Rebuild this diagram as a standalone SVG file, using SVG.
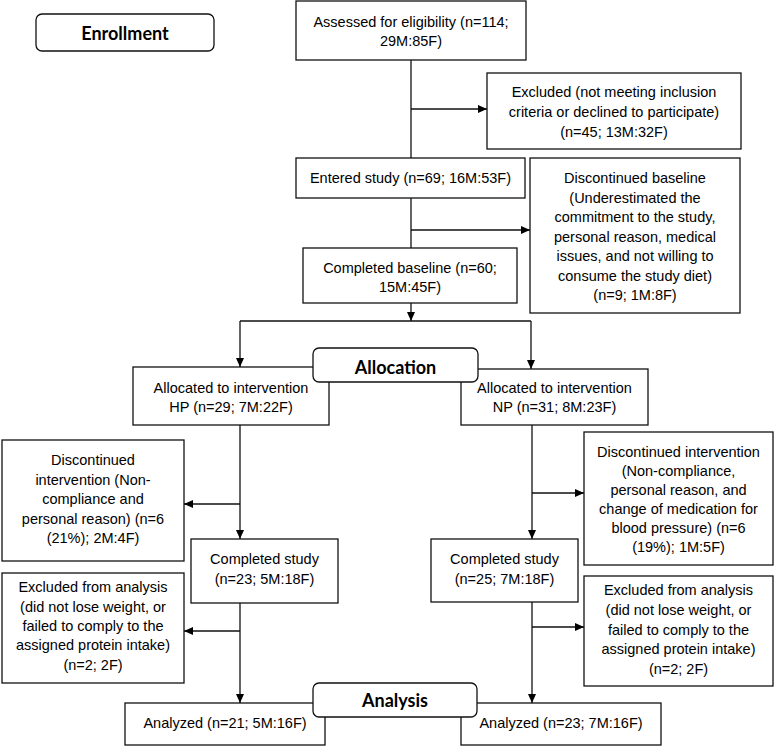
<svg xmlns="http://www.w3.org/2000/svg" width="774" height="747" viewBox="0 0 774 747">
<defs>
<marker id="ah" markerWidth="9" markerHeight="8" refX="9" refY="4" orient="auto" markerUnits="userSpaceOnUse">
<path d="M0,0 L9,4 L0,8 Z" fill="#000"/>
</marker>
<style>
.box{fill:#fff;stroke:#111;stroke-width:1.3}
.stage{fill:#fff;stroke:#111;stroke-width:1.3}
.t{font-family:"Liberation Sans",Arial,sans-serif;font-size:14.5px;fill:#000;text-anchor:middle}
.h{font-family:Lato,"Open Sans",sans-serif;font-size:18px;font-weight:bold;fill:#000;text-anchor:middle}
.c{fill:none;stroke:#111;stroke-width:1.3}
.a{fill:none;stroke:#111;stroke-width:1.3;marker-end:url(#ah)}
</style>
</defs>
<rect width="774" height="747" fill="#fff"/>
<g id="connectors">
<line class="c" x1="411" y1="60" x2="411" y2="158"/>
<line class="a" x1="411" y1="109" x2="487" y2="109"/>
<line class="c" x1="411" y1="198" x2="411" y2="248"/>
<line class="a" x1="411" y1="230" x2="530" y2="230"/>
<line class="a" x1="411" y1="303" x2="411" y2="321"/>
<polyline class="c" points="240,321 531,321"/>
<line class="a" x1="240" y1="321" x2="240" y2="367"/>
<line class="a" x1="531" y1="321" x2="531" y2="369"/>
<line class="a" x1="240" y1="425" x2="240" y2="539"/>
<line class="a" x1="240" y1="504" x2="184" y2="504"/>
<line class="a" x1="240" y1="603" x2="240" y2="703"/>
<line class="a" x1="240" y1="631" x2="184" y2="631"/>
<line class="a" x1="532" y1="425" x2="532" y2="539"/>
<line class="a" x1="532" y1="493" x2="584" y2="493"/>
<line class="a" x1="532" y1="602" x2="532" y2="703"/>
<line class="a" x1="532" y1="627" x2="584" y2="627"/>
</g>
<g id="enrollment">
<rect class="stage" x="36" y="14" width="178" height="37" rx="6"/>
<text class="h" x="125" y="40">Enrollment</text>
</g>
<g id="assessed">
<rect class="box" x="296" y="1" width="230" height="59"/>
<text class="t" x="411" y="26.5">Assessed for eligibility (n=114;</text>
<text class="t" x="411" y="45.5">29M:85F)</text>
</g>
<g id="excluded">
<rect class="box" x="487" y="73" width="254" height="76"/>
<text class="t" x="614" y="97">Excluded (not meeting inclusion</text>
<text class="t" x="614" y="117">criteria or declined to participate)</text>
<text class="t" x="614" y="137">(n=45; 13M:32F)</text>
</g>
<g id="entered">
<rect class="box" x="296" y="158" width="229" height="40"/>
<text class="t" x="410.5" y="183">Entered study (n=69; 16M:53F)</text>
</g>
<g id="disc-baseline">
<rect class="box" x="530" y="158" width="210" height="155"/>
<text class="t" x="635" y="183">Discontinued baseline</text>
<text class="t" x="635" y="203">(Underestimated the</text>
<text class="t" x="635" y="222">commitment to the study,</text>
<text class="t" x="635" y="242">personal reason, medical</text>
<text class="t" x="635" y="261">issues, and not willing to</text>
<text class="t" x="635" y="281">consume the study diet)</text>
<text class="t" x="635" y="300">(n=9; 1M:8F)</text>
</g>
<g id="completed-baseline">
<rect class="box" x="303" y="248" width="214" height="55"/>
<text class="t" x="410" y="273">Completed baseline (n=60;</text>
<text class="t" x="410" y="292">15M:45F)</text>
</g>
<g id="alloc-hp">
<rect class="box" x="133" y="367" width="196" height="58"/>
<text class="t" x="231" y="393">Allocated to intervention</text>
<text class="t" x="231" y="412">HP (n=29; 7M:22F)</text>
</g>
<g id="alloc-np">
<rect class="box" x="461" y="369" width="187" height="56"/>
<text class="t" x="554.5" y="393">Allocated to intervention</text>
<text class="t" x="554.5" y="412">NP (n=31; 8M:23F)</text>
</g>
<g id="allocation">
<rect class="stage" x="313" y="348" width="165" height="34" rx="6"/>
<text class="h" x="395.5" y="374">Allocation</text>
</g>
<g id="disc-hp">
<rect class="box" x="2" y="440" width="182" height="121"/>
<text class="t" x="93" y="465">Discontinued</text>
<text class="t" x="93" y="485">intervention (Non-</text>
<text class="t" x="93" y="504">compliance and</text>
<text class="t" x="93" y="524">personal reason) (n=6</text>
<text class="t" x="93" y="543">(21%); 2M:4F)</text>
</g>
<g id="disc-np">
<rect class="box" x="584" y="432" width="189" height="133"/>
<text class="t" x="678.5" y="457">Discontinued intervention</text>
<text class="t" x="678.5" y="476">(Non-compliance,</text>
<text class="t" x="678.5" y="495">personal reason, and</text>
<text class="t" x="678.5" y="514">change of medication for</text>
<text class="t" x="678.5" y="533">blood pressure) (n=6</text>
<text class="t" x="678.5" y="552">(19%); 1M:5F)</text>
</g>
<g id="completed-hp">
<rect class="box" x="191" y="539" width="147" height="64"/>
<text class="t" x="264.5" y="564">Completed study</text>
<text class="t" x="264.5" y="584">(n=23; 5M:18F)</text>
</g>
<g id="completed-np">
<rect class="box" x="431" y="539" width="147" height="63"/>
<text class="t" x="504.5" y="564">Completed study</text>
<text class="t" x="504.5" y="584">(n=25; 7M:18F)</text>
</g>
<g id="excl-hp">
<rect class="box" x="2" y="573" width="182" height="110"/>
<text class="t" x="93" y="592">Excluded from analysis</text>
<text class="t" x="93" y="612">(did not lose weight, or</text>
<text class="t" x="93" y="631">failed to comply to the</text>
<text class="t" x="93" y="650">assigned protein intake)</text>
<text class="t" x="93" y="670">(n=2; 2F)</text>
</g>
<g id="excl-np">
<rect class="box" x="584" y="576" width="189" height="110"/>
<text class="t" x="678.5" y="595">Excluded from analysis</text>
<text class="t" x="678.5" y="615">(did not lose weight, or</text>
<text class="t" x="678.5" y="635">failed to comply to the</text>
<text class="t" x="678.5" y="654">assigned protein intake)</text>
<text class="t" x="678.5" y="674">(n=2; 2F)</text>
</g>
<g id="analyzed-hp">
<rect class="box" x="125" y="703" width="200" height="42"/>
<text class="t" x="225" y="728">Analyzed (n=21; 5M:16F)</text>
</g>
<g id="analyzed-np">
<rect class="box" x="461" y="703" width="200" height="42"/>
<text class="t" x="561" y="728">Analyzed (n=23; 7M:16F)</text>
</g>
<g id="analysis">
<rect class="stage" x="313" y="683" width="164" height="34" rx="6"/>
<text class="h" x="395" y="707">Analysis</text>
</g>
</svg>
